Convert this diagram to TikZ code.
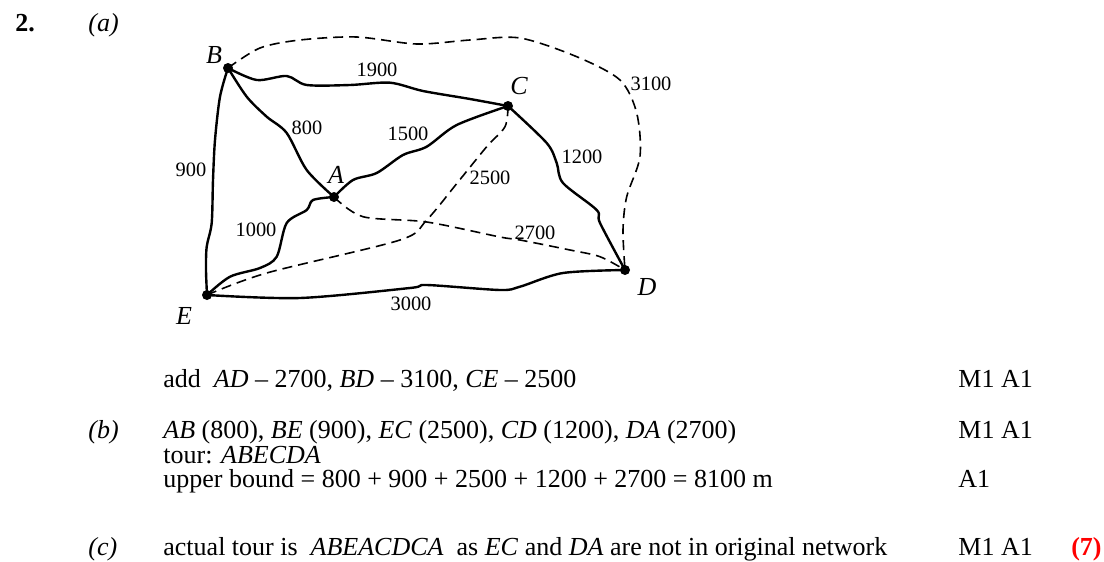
\documentclass[tikz,border=0pt]{standalone}
\usepackage{fontspec}
\setmainfont{Liberation Serif}
\usepackage{xcolor}

\begin{document}
\begin{tikzpicture}[x=0.5pt, y=-0.5pt,
  dot/.style={circle,fill=black,inner sep=0pt,minimum size=5pt},
  road/.style={line width=1.2pt,line join=round},
  added/.style={line width=0.8pt,dash pattern=on 5pt off 3pt},
  vname/.style={font=\itshape\fontsize{13}{15}\selectfont,inner sep=0pt},
  wt/.style={font=\fontsize{10.2}{12}\selectfont,inner sep=0pt},
  txt/.style={anchor=base west,font=\fontsize{13}{15}\selectfont,inner sep=0pt}
]
  \useasboundingbox (0,0) rectangle (1104,562);

  % vertices
  \node[dot] (B) at (228,68) {};
  \node[dot] (C) at (508,106) {};
  \node[dot] (A) at (334,197) {};
  \node[dot] (E) at (207,295) {};
  \node[dot] (D) at (625,270) {};
  \node[vname] (nB) at (214,55) {B};
  \node[vname] (nC) at (519,86) {C};
  \node[vname] (nA) at (336,175) {A};
  \node[vname] (nE) at (184,316) {E};
  \node[vname] (nD) at (647,287) {D};

  % original network
  \draw[road] plot[smooth,tension=0.5] coordinates {(B) (256.7,80) (286.7,76) (306.7,85) (350,85) (390,82.7) (423,91) (470,99) (C)};
  \draw[road] plot[smooth,tension=0.5] coordinates {(B) (246.7,96.7) (266.7,116.7) (286.7,133) (306.7,170) (A)};
  \draw[road] plot[smooth,tension=0.5] coordinates {(A) (353,180) (376.7,173) (403,155) (426.7,146.7) (456.7,125) (C)};
  \draw[road] plot[smooth,tension=0.5] coordinates {(B) (220,96.7) (215,140) (213,180) (211.7,223) (206.7,246.7) (206,270) (E)};
  \draw[road] plot[smooth,tension=0.5] coordinates {(E) (230,276.7) (260,268) (276.7,256.7) (286.7,223) (306.7,210) (313,200) (A)};
  \draw[road] plot[smooth,tension=0.5] coordinates {(C) (546.7,143) (556.7,163) (563,183) (596.7,210) (600,223) (D)};
  \draw[road] plot[smooth,tension=0.5] coordinates {(E) (300,298) (410,288) (426.7,285) (500,290) (520,286.7) (563,273) (D)};

  % added edges
  \draw[added] plot[smooth,tension=0.5] coordinates {(E) (266.7,273) (400,240) (426.7,220) (458,182) (486.7,146.7) (505,126.7) (C)};
  \draw[added] plot[smooth,tension=0.5] coordinates {(A) (363,216.7) (426.7,222) (500,237) (520,240) (570,250) (600,256.7) (D)};
  \draw[added] plot[smooth,tension=0.5] coordinates {(B) (260,48) (300,40) (356.7,37) (416.7,44) (470,40) (520,38) (576.7,56.7) (620,80) (636.7,113) (640,156.7) (626.7,196.7) (623,230) (D)};

  % weights
  \node[wt] (w1900) at (377,70) {1900};
  \node[wt] (w800) at (307,128) {800};
  \node[wt] (w1500) at (408,134) {1500};
  \node[wt] (w900) at (191,170) {900};
  \node[wt] (w1200) at (582,157) {1200};
  \node[wt] (w2500) at (490,178) {2500};
  \node[wt] (w3100) at (651,84) {3100};
  \node[wt] (w2700) at (535,233) {2700};
  \node[wt] (w1000) at (256,230) {1000};
  \node[wt] (w3000) at (411,304) {3000};

  % mark scheme text
  \node[txt] (q) at (15,32) {\textbf{2.}};
  \node[txt] (pa) at (88,32) {\textit{(a)}};
  \node[txt] (add) at (163,387) {add\ \ \textit{AD} -- 2700, \textit{BD} -- 3100, \textit{CE} -- 2500};
  \node[txt] (m1) at (958,387) {M1 A1};
  \node[txt] (pb) at (88,438) {\textit{(b)}};
  \node[txt] (edges) at (163,438) {\textit{AB} (800), \textit{BE} (900), \textit{EC} (2500), \textit{CD} (1200), \textit{DA} (2700)};
  \node[txt] (m2) at (958,438) {M1 A1};
  \node[txt] (tour) at (163,463) {tour: \textit{ABECDA}};
  \node[txt] (ub) at (163,487) {upper bound = 800 + 900 + 2500 + 1200 + 2700 = 8100 m};
  \node[txt] (m3) at (958,487) {A1};
  \node[txt] (pc) at (88,555) {\textit{(c)}};
  \node[txt] (act) at (163,555) {actual tour is\ \ \textit{ABEACDCA}\ \ as \textit{EC} and \textit{DA} are not in original network};
  \node[txt] (m4) at (958,555) {M1 A1};
  \node[txt,anchor=base east] (tot) at (1102,555) {\textbf{\color{red}(7)}};
\end{tikzpicture}
\end{document}
